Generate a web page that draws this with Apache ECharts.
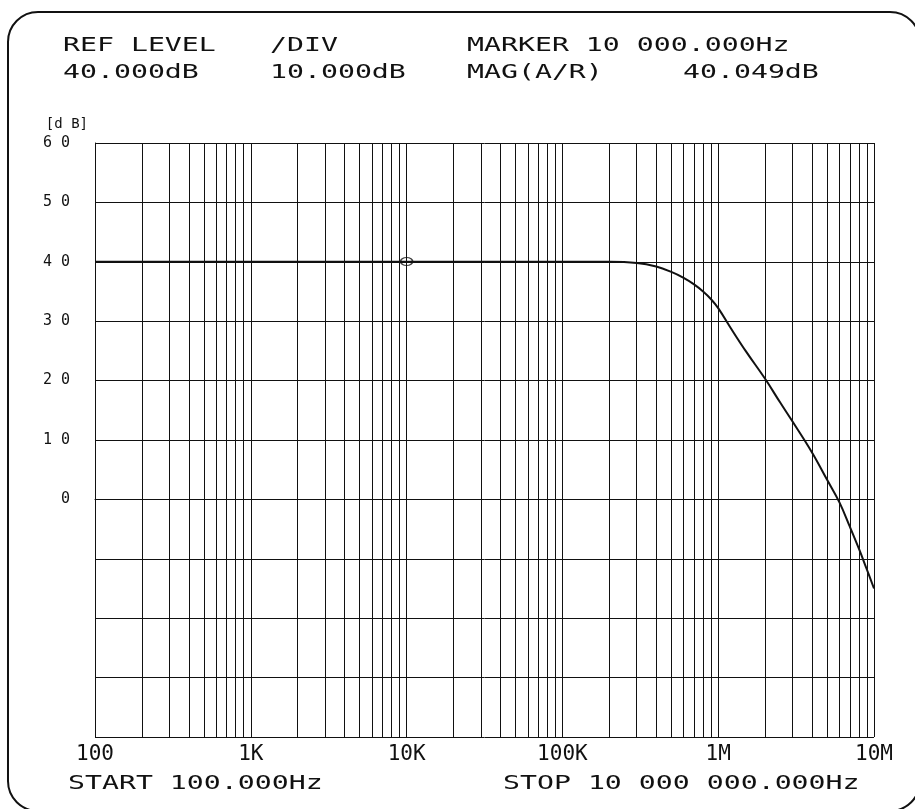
<!DOCTYPE html>
<html>
<head>
<meta charset="utf-8">
<title>Network analyzer - gain vs frequency</title>
<script src="https://cdn.jsdelivr.net/npm/echarts@6/dist/echarts.min.js"></script>
<style>
  html, body { margin: 0; padding: 0; background: #fff; }
  #chart { width: 915px; height: 809px; }
</style>
</head>
<body>
<div id="chart"></div>
<script>
const freqHz = [100, 1000, 10000, 100000, 200000, 300000, 400000, 500000, 600000, 700000,
  800000, 900000, 1000000, 1200000, 1500000, 2000000, 2500000, 3000000, 4000000, 5000000,
  6000000, 7000000, 8000000, 9000000, 10000000];
const magDb = [40, 40, 40, 40, 40, 39.8, 39.2, 38.3, 37.3, 36.2,
  35.0, 33.7, 32.2, 28.9, 25.0, 20.3, 16.3, 13.1, 7.9, 3.3,
  -0.5, -4.6, -8.3, -11.8, -15.0];

// marker
const markerFreq = [10000];
const markerMag = [40.049];

// axis labels
const xTickLabels = ['100', '1K', '10K', '100K', '1M', '10M'];
const decades = [100, 1000, 10000, 100000, 1000000];
const minorSteps = [2, 3, 4, 5, 6, 7, 8, 9];

const FONT = '"DejaVu Sans Mono", monospace';
const INK = '#111';

// header / footer text of the plotter printout
const headerTexts = [
  { x: 63, y: 46, text: 'REF LEVEL' },
  { x: 63, y: 73, text: '40.000dB' },
  { x: 270, y: 46, text: '/DIV' },
  { x: 270, y: 73, text: '10.000dB' },
  { x: 467, y: 46, text: 'MARKER 10 000.000Hz' },
  { x: 467, y: 73, text: 'MAG(A/R)' },
  { x: 683, y: 73, text: '40.049dB' },
  { x: 68, y: 784, text: 'START 100.000Hz' },
  { x: 503, y: 784, text: 'STOP 10 000 000.000Hz' }
];

// 次网格线 2..9 每个十倍频
const minorLines = [];
decades.forEach(d => {
  minorSteps.forEach(s => minorLines.push({ xAxis: d * s }));
});

const chart = echarts.init(document.getElementById('chart'));

const option = {
  backgroundColor: '#fff',
  animation: false,
  grid: { left: 95, right: 41, top: 143, bottom: 72 },
  xAxis: {
    type: 'log',
    logBase: 10,
    min: 100,
    max: 10000000,
    axisLine: { show: true, lineStyle: { color: INK, width: 1 } },
    axisTick: { show: true, length: 5, lineStyle: { color: INK } },
    axisLabel: {
      margin: 7,
      fontFamily: FONT,
      fontSize: 21,
      color: INK,
      formatter: v => xTickLabels[Math.round(Math.log10(v)) - 2]
    },
    splitLine: { show: true, lineStyle: { color: INK, width: 1 } }
  },
  yAxis: {
    type: 'value',
    min: -40,
    max: 60,
    interval: 10,
    name: '[d B]',
    nameLocation: 'end',
    nameGap: 19,
    nameTextStyle: {
      fontFamily: FONT, fontSize: 14, color: INK,
      align: 'right', verticalAlign: 'middle', padding: [0, 7, 0, 0]
    },
    axisLine: { show: true, lineStyle: { color: INK, width: 1 } },
    axisTick: { show: false },
    axisLabel: {
      margin: 25,
      fontFamily: FONT,
      fontSize: 15,
      color: INK,
      formatter: v => (v >= 0 ? String(v).split('').join(' ') : '')
    },
    splitLine: { show: true, lineStyle: { color: INK, width: 1 } }
  },
  series: [
    {
      name: 'MAG(A/R)',
      type: 'line',
      data: freqHz.map((f, i) => [f, magDb[i]]),
      smooth: 0.4,
      showSymbol: false,
      lineStyle: { color: INK, width: 2 },
      markLine: {
        silent: true,
        symbol: 'none',
        label: { show: false },
        lineStyle: { color: INK, width: 1, type: 'solid' },
        data: minorLines
      },
      z: 3
    },
    {
      name: 'marker',
      type: 'scatter',
      data: markerFreq.map((f, i) => [f, markerMag[i]]),
      symbol: 'circle',
      symbolSize: [12, 8],
      itemStyle: { color: 'rgba(255,255,255,0)', borderColor: INK, borderWidth: 1.5 },
      z: 4
    }
  ],
  graphic: [
    // 外框（圆角）
    {
      type: 'rect',
      shape: { x: 8, y: 12, width: 912, height: 799, r: 30 },
      style: { fill: 'none', stroke: INK, lineWidth: 2 },
      silent: true
    }
  ].concat(headerTexts.map(t => ({
    type: 'text',
    x: t.x,
    y: t.y,
    scaleX: 1.41,
    silent: true,
    style: {
      text: t.text,
      font: '20px ' + FONT,
      fill: INK,
      textAlign: 'left',
      textVerticalAlign: 'middle'
    }
  })))
};

chart.setOption(option);
</script>
</body>
</html>
